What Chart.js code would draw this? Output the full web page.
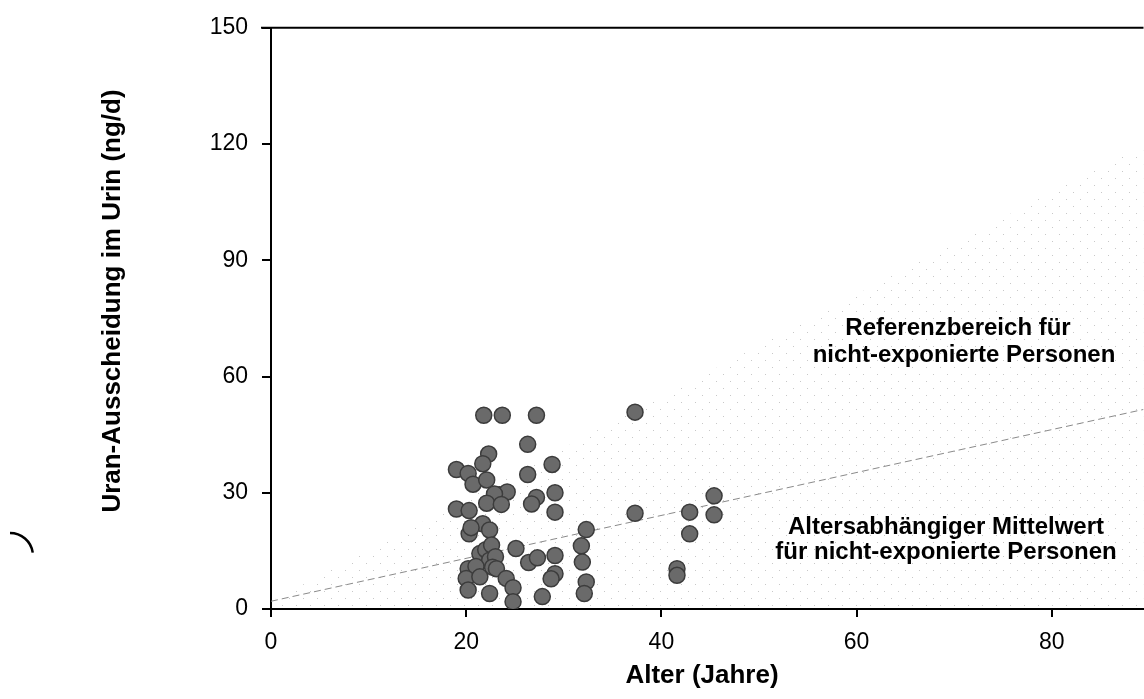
<!DOCTYPE html>
<html>
<head>
<meta charset="utf-8">
<script src="https://cdn.jsdelivr.net/npm/chart.js@4/dist/chart.umd.min.js"></script>
<style>
  html, body { margin: 0; padding: 0; background: #fff; overflow: hidden; }
</style>
</head>
<body>
<canvas id="chart" width="1153" height="699"></canvas>
<script>
// Alter (Jahre) / Uran-Ausscheidung (ng/d) of the measured persons
const ageX = [21.8, 23.7, 27.2, 26.3, 22.3, 21.7, 19.0, 20.2, 26.3, 28.8,
              20.7, 22.1, 23.4, 24.2, 22.9, 22.1, 23.6, 27.2, 26.7, 29.1,
              29.1, 19.0, 20.3, 21.7, 22.4, 20.3, 20.5, 21.4, 22.0, 22.6,
              25.1, 22.4, 23.0, 26.4, 27.3, 20.2, 21.0, 22.7, 20.0, 21.4,
              23.1, 24.1, 20.2, 22.4, 24.8, 24.8, 27.8, 29.1, 29.1, 28.7,
              32.3, 31.8, 31.9, 32.3, 32.1, 37.3, 37.3, 45.4, 42.9, 45.4,
              42.9, 41.6, 41.6];
const uranY = [50, 50, 50, 42.5, 40, 37.5, 36, 35, 34.7, 37.3,
               32.2, 33.3, 29.5, 30.2, 29.7, 27.3, 27, 28.8, 27.1, 30,
               25, 25.8, 25.4, 22, 20.4, 19.4, 21, 14.3, 15.3, 16.5,
               15.6, 12.6, 13.5, 12, 13.2, 10.4, 11, 10.8, 7.9, 8.3,
               10.4, 7.9, 4.9, 4.0, 5.5, 1.9, 3.2, 13.8, 9.1, 7.8,
               20.5, 16.3, 12.1, 7, 4, 50.8, 24.7, 29.2, 25, 24.3,
               19.4, 10.4, 8.7];

// altersabhängiger Mittelwert (dashed line)
const meanX = [0, 89.4];
const meanY = [2, 51.5];

// upper edge of the stippled reference range
const refX = [0, 89.4];
const refY = [2, 120];

const xTickValues = [0, 20, 40, 60, 80];
const yTickValues = [0, 30, 60, 90, 120, 150];

function toPoints(xs, ys) {
    return xs.map((x, i) => ({ x: x, y: ys[i] }));
}

// sparse dot pattern for the reference range
const pat = document.createElement('canvas');
pat.width = 14; pat.height = 14;
const pctx = pat.getContext('2d');
pctx.fillStyle = '#c8c8c8';
pctx.fillRect(2, 3, 1, 1);
pctx.fillRect(9, 10, 1, 1);
const stipple = pctx.createPattern(pat, 'repeat');

const font = "'Liberation Sans', Arial, sans-serif";

const extras = {
    id: 'extras',
    afterDraw(chart) {
        const ctx = chart.ctx;
        const a = chart.chartArea;
        ctx.save();
        // top frame line
        ctx.strokeStyle = '#000';
        ctx.lineWidth = 2;
        ctx.beginPath();
        ctx.moveTo(a.left - 10, a.top);
        ctx.lineTo(a.right, a.top);
        ctx.stroke();

        ctx.fillStyle = '#000';
        ctx.textAlign = 'center';
        ctx.textBaseline = 'middle';
        ctx.font = 'bold 24px ' + font;
        ctx.fillText('Referenzbereich für', 958, 328);
        ctx.fillText('nicht-exponierte Personen', 964, 355);
        ctx.fillText('Altersabhängiger Mittelwert', 946, 527);
        ctx.fillText('für nicht-exponierte Personen', 946, 552);

        ctx.font = 'bold 26px ' + font;
        ctx.fillText('Alter (Jahre)', 702, 676);

        ctx.save();
        ctx.translate(113, 301);
        ctx.rotate(-Math.PI / 2);
        ctx.fillText('Uran-Ausscheidung im Urin (ng/d)', 0, 0);
        ctx.restore();

        // stray mark at the left edge
        ctx.lineWidth = 2.5;
        ctx.beginPath();
        ctx.arc(10, 556, 23, -Math.PI / 2, -0.15);
        ctx.stroke();
        ctx.restore();
    }
};

new Chart(document.getElementById('chart'), {
    type: 'scatter',
    data: {
        datasets: [{
            data: toPoints(ageX, uranY),
            backgroundColor: '#6a6a6a',
            borderColor: '#3c3c3c',
            borderWidth: 1.5,
            pointRadius: 8,
            order: 0
        }, {
            data: toPoints(meanX, meanY),
            showLine: true,
            borderColor: '#8a8a8a',
            borderWidth: 1,
            borderDash: [7, 4],
            pointRadius: 0,
            order: 1
        }, {
            data: toPoints(refX, refY),
            showLine: true,
            borderWidth: 0,
            borderColor: 'rgba(0,0,0,0)',
            backgroundColor: stipple,
            fill: 'origin',
            pointRadius: 0,
            order: 2
        }]
    },
    options: {
        responsive: false,
        animation: false,
        events: [],
        layout: { padding: { top: 24, right: 0, left: 0, bottom: 0 } },
        plugins: {
            legend: { display: false },
            tooltip: { enabled: false }
        },
        scales: {
            x: {
                type: 'linear',
                min: 0,
                max: 89.4,
                afterBuildTicks: s => { s.ticks = xTickValues.map(v => ({ value: v })); },
                afterFit: s => { s.height = 90; },
                border: { display: true, color: '#000', width: 2 },
                grid: { drawOnChartArea: false, drawTicks: true, tickLength: 8, color: '#000', lineWidth: 2 },
                ticks: { color: '#000', padding: 12, font: { family: font, size: 23 } }
            },
            y: {
                type: 'linear',
                min: 0,
                max: 150,
                afterBuildTicks: s => { s.ticks = yTickValues.map(v => ({ value: v })); },
                afterFit: s => { s.width = 271; },
                border: { display: true, color: '#000', width: 2 },
                grid: { drawOnChartArea: false, drawTicks: true, tickLength: 9, color: '#000', lineWidth: 2 },
                ticks: { color: '#000', padding: 14, font: { family: font, size: 23 } }
            }
        }
    },
    plugins: [extras]
});
</script>
</body>
</html>
